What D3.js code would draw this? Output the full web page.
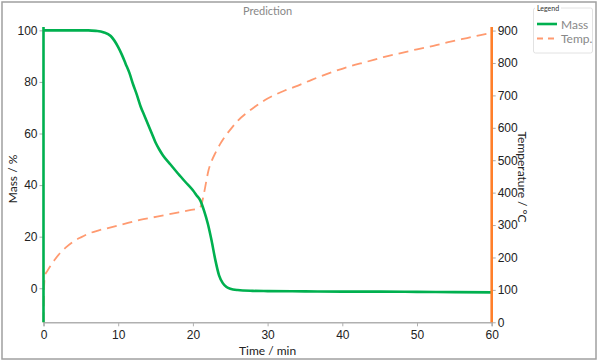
<!DOCTYPE html>
<html>
<head>
<meta charset="utf-8">
<script src="https://cdn.jsdelivr.net/npm/d3@7"></script>
<style>
  body { margin: 0; background: #fff; }
  svg { font-family: Lato, "Open Sans", sans-serif; }
</style>
</head>
<body>
<svg id="chart"></svg>
<script>
// values
const massTime = [0, 2, 4, 6, 7, 8, 9, 10, 10.5, 11, 11.5, 12, 12.5, 13, 13.5, 14, 14.5, 15, 15.5, 16, 17, 18, 19, 20, 20.5, 21, 21.5, 22, 22.5, 23, 23.5, 24, 24.5, 25, 26, 28, 30, 35, 40, 45, 50, 55, 60]
const massValue = [100, 100, 100, 100, 99.8, 99.3, 97.8, 93.5, 90.5, 87, 83.5, 79, 75, 70.5, 67, 63.5, 60, 56.5, 53.8, 51.5, 48, 44.5, 41.2, 38, 36, 34, 30, 25, 18.5, 11, 5, 2, 0.5, -0.2, -0.7, -1, -1.1, -1.2, -1.3, -1.3, -1.4, -1.5, -1.6]

const tempTime = [0, 0.05, 0.2, 0.5, 0.9, 1.5, 2.2, 3, 4, 5, 6.2, 7.3, 8.5, 10.7, 12.9, 15.2, 17.4, 19.6, 20.8, 21.1, 21.4, 21.75, 22.1, 22.5, 23, 23.6, 24.3, 25.2, 26.1, 27.2, 28.3, 29.6, 31, 32.3, 33.7, 35.9, 38.8, 41, 43.3, 45.5, 47.7, 50, 52.2, 54.5, 56.7, 58.5, 60]
const tempValue = [0, 90, 146, 158, 173, 193, 213, 231, 249, 262, 275, 283, 290, 303, 316, 326, 336, 346, 351, 360, 388, 430, 470, 497, 522, 548, 573, 600, 624, 646, 665, 685, 702, 715, 727, 748, 773, 790, 804, 818, 830, 842, 853, 866, 877, 886, 893]

const timeTicks = [0, 10, 20, 30, 40, 50, 60]
const massTicks = [0, 20, 40, 60, 80, 100]
const tempTicks = [0, 100, 200, 300, 400, 500, 600, 700, 800, 900]

const seriesNames = ['Mass', 'Temp.']

const W = 600, H = 363
const plotLeft = 43.5, plotRight = 491.7, plotTop = 27, plotBottom = 322.3

const green = '#00b04f'
const orangeAxis = '#ff7f2a'
const orangeLine = '#ff9a70'

const svg = d3.select('#chart').attr('width', W).attr('height', H)

// outer frame
svg.append('rect')
    .attr('x', 2).attr('y', 2).attr('width', 594).attr('height', 357)
    .attr('fill', 'none').attr('stroke', '#a0a0a0').attr('stroke-width', 1.5)

const x = d3.scaleLinear().domain([0, 60]).range([plotLeft, plotRight])
const yMass = d3.scaleLinear().domain([-13.2, 101.3]).range([plotBottom, plotTop])
const yTemp = d3.scaleLinear().domain([0, 911]).range([plotBottom, plotTop])

// bottom axis
const xAxis = svg.append('g')
    .attr('transform', `translate(0,${plotBottom})`)
    .call(d3.axisBottom(x).tickValues(timeTicks).tickSize(4).tickPadding(4))
xAxis.select('.domain').attr('stroke', '#b0b0b0').attr('stroke-width', 1.5)
xAxis.selectAll('.tick line').attr('stroke', '#b0b0b0')
xAxis.selectAll('text').attr('font-size', 12).attr('fill', '#222')

// left axis (mass)
const yAxisL = svg.append('g')
    .attr('transform', `translate(${plotLeft},0)`)
    .call(d3.axisLeft(yMass).tickValues(massTicks).tickSize(4).tickPadding(2))
yAxisL.select('.domain').remove()
yAxisL.selectAll('.tick line').attr('stroke', '#aaa')
yAxisL.selectAll('text').attr('font-size', 12).attr('fill', '#222')

// right axis (temperature)
const yAxisR = svg.append('g')
    .attr('transform', `translate(${plotRight},0)`)
    .call(d3.axisRight(yTemp).tickValues(tempTicks).tickSize(4).tickPadding(2))
yAxisR.select('.domain').remove()
yAxisR.selectAll('.tick line').attr('stroke', '#aaa')
yAxisR.selectAll('text').attr('font-size', 12).attr('fill', '#222')

// temperature dashed line
const tempData = tempTime.map((t, i) => [t, tempValue[i]])
svg.append('path')
    .datum(tempData)
    .attr('fill', 'none')
    .attr('stroke', orangeLine)
    .attr('stroke-width', 1.8)
    .attr('stroke-dasharray', '10,6')
    .attr('d', d3.line().x(d => x(d[0])).y(d => yTemp(d[1])).curve(d3.curveMonotoneX))

// mass line
const massData = massTime.map((t, i) => [t, massValue[i]])
svg.append('path')
    .datum(massData)
    .attr('fill', 'none')
    .attr('stroke', green)
    .attr('stroke-width', 2.6)
    .attr('d', d3.line().x(d => x(d[0])).y(d => yMass(d[1])).curve(d3.curveMonotoneX))

// coloured axis lines
svg.append('line')
    .attr('x1', plotLeft).attr('x2', plotLeft).attr('y1', plotTop).attr('y2', plotBottom)
    .attr('stroke', green).attr('stroke-width', 2.6)
svg.append('line')
    .attr('x1', plotRight).attr('x2', plotRight).attr('y1', plotTop).attr('y2', plotBottom)
    .attr('stroke', orangeAxis).attr('stroke-width', 2.6)

// title and axis labels
svg.append('text')
    .attr('x', (plotLeft + plotRight) / 2).attr('y', 15)
    .attr('text-anchor', 'middle').attr('font-size', 11).attr('fill', '#888')
    .text('Prediction')

svg.append('text')
    .attr('x', (plotLeft + plotRight) / 2).attr('y', 355)
    .attr('text-anchor', 'middle').attr('font-size', 12).attr('fill', '#222')
    .text('Time / min')

svg.append('text')
    .attr('transform', `translate(17,179) rotate(-90)`)
    .attr('text-anchor', 'middle').attr('font-size', 12).attr('fill', '#222')
    .text('Mass / %')

svg.append('text')
    .attr('transform', `translate(518,177) rotate(90)`)
    .attr('text-anchor', 'middle').attr('font-size', 12).attr('fill', '#222')
    .text('Temperature / °C')

// legend
const lg = svg.append('g')
lg.append('rect')
    .attr('x', 533.5).attr('y', 8).attr('width', 59).attr('height', 45).attr('rx', 2)
    .attr('fill', '#fff').attr('stroke', '#e2e2e2')
lg.append('rect')
    .attr('x', 535).attr('y', 4).attr('width', 26).attr('height', 8).attr('fill', '#fff')
lg.append('text')
    .attr('x', 537).attr('y', 10.5).attr('font-size', 7).attr('fill', '#333')
    .text('Legend')

const legendItems = lg.selectAll('.item')
    .data(seriesNames)
    .enter()
    .append('g')
    .attr('transform', (d, i) => `translate(0,${24 + i * 14.5})`)
legendItems.append('line')
    .attr('x1', 537).attr('x2', 557).attr('y1', 0).attr('y2', 0)
    .attr('stroke', (d, i) => i === 0 ? green : orangeLine)
    .attr('stroke-width', (d, i) => i === 0 ? 2.6 : 1.8)
    .attr('stroke-dasharray', (d, i) => i === 0 ? null : '6,5')
legendItems.append('text')
    .attr('x', 561).attr('y', 4.5).attr('font-size', 12).attr('fill', '#888')
    .text(d => d)
</script>
</body>
</html>
